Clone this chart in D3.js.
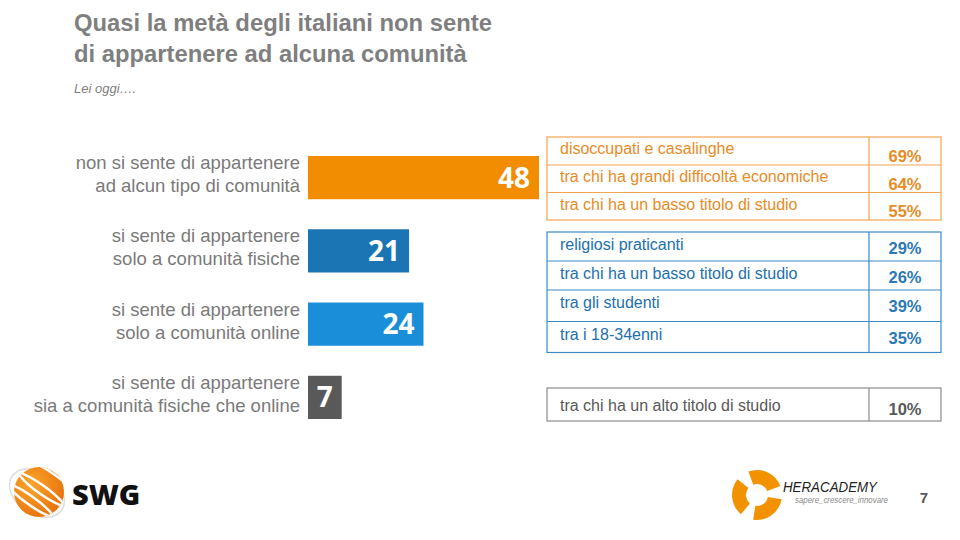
<!DOCTYPE html>
<html>
<head>
<meta charset="utf-8">
<script src="https://cdn.jsdelivr.net/npm/d3@7"></script>
<style>
  html, body { margin: 0; padding: 0; background: #fff; }
  svg { display: block; }
</style>
</head>
<body>
<script>
// ---------- DATA ----------
const categories = [
  ["non si sente di appartenere", "ad alcun tipo di comunità"],
  ["si sente di appartenere", "solo a comunità fisiche"],
  ["si sente di appartenere", "solo a comunità online"],
  ["si sente di appartenere", "sia a comunità fisiche che online"]
];
const values = [48, 21, 24, 7];
const barColors = ["#F28C00", "#1B75B4", "#1B8EDA", "#595959"];

const orangeLabels = ["disoccupati e casalinghe", "tra chi ha grandi difficoltà economiche", "tra chi ha un basso titolo di studio"];
const orangeValues = ["69%", "64%", "55%"];
const blueLabels = ["religiosi praticanti", "tra chi ha un basso titolo di studio", "tra gli studenti", "tra i 18-34enni"];
const blueValues = ["29%", "26%", "39%", "35%"];
const grayLabels = ["tra chi ha un alto titolo di studio"];
const grayValues = ["10%"];

const titleLines = ["Quasi la metà degli italiani non sente", "di appartenere ad alcuna comunità"];
const subtitle = "Lei oggi….";
const pageNumber = "7";

// ---------- SVG ----------
const W = 960, H = 540;
const svg = d3.select("body").append("svg").attr("width", W).attr("height", H);
const font = "'Liberation Sans', Arial, sans-serif";

// Title
svg.append("g").selectAll("text").data(titleLines).join("text")
  .attr("x", 74).attr("y", (d, i) => 31 + i * 31)
  .attr("font-family", font).attr("font-weight", "bold").attr("font-size", 23.8)
  .attr("fill", "#7F7F7F").text(d => d);
svg.append("text").attr("x", 74).attr("y", 93)
  .attr("font-family", font).attr("font-style", "italic").attr("font-size", 13)
  .attr("fill", "#7F7F7F").text(subtitle);

// Bars
const x = d3.scaleLinear().domain([0, 48]).range([308, 539]);
const idx = d3.range(values.length);
const y = d3.scaleBand().domain(idx).range([156, 419]).paddingInner(0.41);

const bars = svg.append("g");
bars.selectAll("rect").data(idx).join("rect")
  .attr("x", x(0)).attr("y", i => y(i))
  .attr("width", i => x(values[i]) - x(0)).attr("height", y.bandwidth())
  .attr("fill", i => barColors[i]);
bars.selectAll("text.val").data(idx).join("text").attr("class", "val")
  .attr("x", i => x(values[i]) - 9).attr("y", i => y(i) + y.bandwidth() / 2 + 10)
  .attr("text-anchor", "end")
  .attr("font-family", "'Open Sans', sans-serif").attr("font-weight", "bold").attr("font-size", 28)
  .attr("fill", "#fff").text(i => values[i]);

// Category labels
const cat = svg.append("g");
idx.forEach(i => {
  categories[i].forEach((line, j) => {
    cat.append("text")
      .attr("x", 300).attr("y", y(i) + y.bandwidth() / 2 - 8.5 + j * 23)
      .attr("text-anchor", "end")
      .attr("font-family", font).attr("font-size", 18.5)
      .attr("fill", "#7A7A7A").text(line);
  });
});

// Tables
function table(labels, vals, rowEdges, stroke, textColor, valColor, labelOff, valOff) {
  const g = svg.append("g");
  const x0 = 547, x1 = 941, xd = 869;
  const top = rowEdges[0], bot = rowEdges[rowEdges.length - 1];
  g.append("rect").attr("x", x0).attr("y", top).attr("width", x1 - x0).attr("height", bot - top)
    .attr("fill", "none").attr("stroke", stroke).attr("stroke-width", 1.2);
  g.append("line").attr("x1", xd).attr("x2", xd).attr("y1", top).attr("y2", bot)
    .attr("stroke", stroke).attr("stroke-width", 1.2);
  rowEdges.slice(1, -1).forEach(e => {
    g.append("line").attr("x1", x0).attr("x2", x1).attr("y1", e).attr("y2", e)
      .attr("stroke", stroke).attr("stroke-width", 1.2);
  });
  labels.forEach((l, i) => {
    g.append("text").attr("x", 560).attr("y", rowEdges[i] + labelOff)
      .attr("font-family", font).attr("font-size", 16).attr("fill", textColor).text(l);
    g.append("text").attr("x", 905).attr("y", rowEdges[i] + valOff).attr("text-anchor", "middle")
      .attr("font-family", font).attr("font-weight", "bold").attr("font-size", 16.5)
      .attr("fill", valColor).text(vals[i]);
  });
}
table(orangeLabels, orangeValues, [137, 165, 192.5, 220], "#F2A552", "#E98B1F", "#E98B1F", 17, 24.5);
table(blueLabels, blueValues, [232, 261, 290, 321.5, 352.5], "#3C8BC6", "#2270AE", "#2A78B6", 18, 22);
table(grayLabels, grayValues, [388, 421], "#8C8C8C", "#595959", "#595959", 23, 27);

// SWG logo
const logo = svg.append("g");
const defs = svg.append("defs");
const grad = defs.append("radialGradient").attr("id", "swgGrad").attr("cx", "35%").attr("cy", "35%").attr("r", "70%");
grad.append("stop").attr("offset", "0%").attr("stop-color", "#F9A62A");
grad.append("stop").attr("offset", "100%").attr("stop-color", "#E8720C");
defs.append("clipPath").attr("id", "swgClip").append("circle").attr("cx", 39).attr("cy", 492).attr("r", 25);
logo.append("ellipse").attr("cx", 37).attr("cy", 493).attr("rx", 30).attr("ry", 21)
  .attr("transform", "rotate(35,37,493)").attr("fill", "none").attr("stroke", "#DDDDDD").attr("stroke-width", 1.5);
logo.append("circle").attr("cx", 39).attr("cy", 492).attr("r", 25).attr("fill", "url(#swgGrad)");
const stripes = logo.append("g").attr("clip-path", "url(#swgClip)");
[-14, -3, 8].forEach(off => {
  stripes.append("ellipse").attr("cx", 39 + off).attr("cy", 492 - off)
    .attr("rx", 40).attr("ry", 12).attr("transform", `rotate(35,${39 + off},${492 - off})`)
    .attr("fill", "none").attr("stroke", "#fff").attr("stroke-width", 2.5);
});
logo.append("text").attr("x", 72).attr("y", 505)
  .attr("font-family", "'Open Sans', sans-serif").attr("font-weight", 800).attr("font-size", 29)
  .attr("fill", "#111").text("SWG");

// Heracademy logo
const hera = svg.append("g").attr("transform", "translate(757,495)");
const arc = d3.arc().innerRadius(11).outerRadius(25);
[0, 120, 240].forEach(a => {
  hera.append("path")
    .attr("d", arc({ startAngle: 0, endAngle: 1.55 }))
    .attr("transform", `rotate(${a - 20})`)
    .attr("fill", "#F39200");
});
hera.append("circle").attr("r", 8).attr("fill", "#fff");
svg.append("text").attr("x", 783).attr("y", 492)
  .attr("font-family", font).attr("font-style", "italic").attr("font-size", 14)
  .attr("textLength", 94).attr("lengthAdjust", "spacingAndGlyphs")
  .attr("fill", "#222").text("HERACADEMY");
svg.append("text").attr("x", 795).attr("y", 503)
  .attr("font-family", font).attr("font-style", "italic").attr("font-size", 8.5)
  .attr("textLength", 93).attr("lengthAdjust", "spacingAndGlyphs")
  .attr("fill", "#888").text("sapere_crescere_innovare");
svg.append("text").attr("x", 924).attr("y", 503).attr("text-anchor", "middle")
  .attr("font-family", font).attr("font-weight", "bold").attr("font-size", 15)
  .attr("fill", "#595959").text(pageNumber);
</script>
</body>
</html>
